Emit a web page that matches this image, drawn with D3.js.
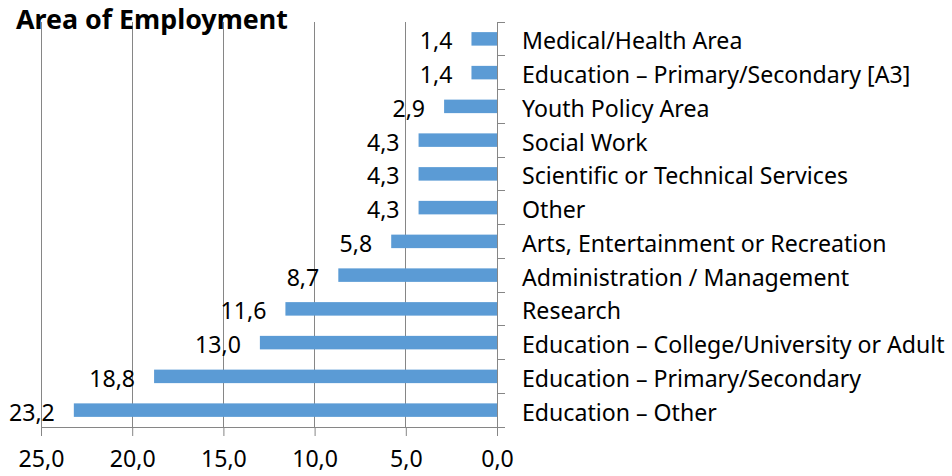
<!DOCTYPE html>
<html>
<head>
<meta charset="utf-8">
<script src="https://cdn.jsdelivr.net/npm/d3@7"></script>
<style>
  body { margin: 0; background: #fff; }
  svg { display: block; }
</style>
</head>
<body>
<div id="wrapper"></div>
<script>
const FONT_FAMILY = "'Noto Sans', 'Open Sans', sans-serif";
const AXIS_COLOR = "#868686";
const BAR_COLOR = "#5B9BD5";

const categories = [
    "Medical/Health Area",
    "Education – Primary/Secondary [A3]",
    "Youth Policy Area",
    "Social Work",
    "Scientific or Technical Services",
    "Other",
    "Arts, Entertainment or Recreation",
    "Administration / Management",
    "Research",
    "Education – College/University or Adult",
    "Education – Primary/Secondary",
    "Education – Other",
];
const values = [1.4, 1.4, 2.9, 4.3, 4.3, 4.3, 5.8, 8.7, 11.6, 13.0, 18.8, 23.2];
const xTicks = [25, 20, 15, 10, 5, 0];
const title = "Area of Employment";

const locale = d3.formatLocale({ decimal: ",", thousands: ".", grouping: [3], currency: ["", ""] });
const fmt = locale.format(".1f");

const dimensions = {
    width: 952,
    height: 476,
    margin: { top: 22, right: 455, bottom: 49, left: 41 },
};
dimensions.boundedWidth = dimensions.width - dimensions.margin.left - dimensions.margin.right;
dimensions.boundedHeight = dimensions.height - dimensions.margin.top - dimensions.margin.bottom;

const wrapper = d3.select("#wrapper")
    .append("svg")
    .attr("width", dimensions.width)
    .attr("height", dimensions.height);

// pick a font size so a given string spans the wanted width
function fitSize(str, targetWidth, weight) {
    const t = wrapper.append("text")
        .style("font-family", FONT_FAMILY)
        .style("font-weight", weight)
        .style("font-size", "100px")
        .text(str);
    const w = t.node().getComputedTextLength();
    t.remove();
    return 100 * targetWidth / w;
}

const labelSize = fitSize("Education – College/University or Adult", 423, "normal");
const titleSize = fitSize(title, 272, "bold");

const bounds = wrapper.append("g")
    .attr("transform", `translate(${dimensions.margin.left},${dimensions.margin.top})`);

const xScale = d3.scaleLinear()
    .domain([25, 0])
    .range([0, dimensions.boundedWidth]);

const yScale = d3.scaleBand()
    .domain(categories)
    .range([0, dimensions.boundedHeight])
    .paddingInner(0.6)
    .paddingOuter(0.3);

// vertical gridlines
bounds.append("g")
    .selectAll("line")
    .data(xTicks)
    .join("line")
    .attr("x1", d => xScale(d))
    .attr("x2", d => xScale(d))
    .attr("y1", 0)
    .attr("y2", dimensions.boundedHeight)
    .attr("stroke", AXIS_COLOR)
    .attr("stroke-width", 1)
    .attr("shape-rendering", "crispEdges");

// bottom axis
const xAxis = bounds.append("g")
    .attr("transform", `translate(0,${dimensions.boundedHeight})`)
    .call(d3.axisBottom(xScale).tickValues(xTicks).tickFormat(fmt).tickSize(9).tickPadding(15).tickSizeOuter(0));
xAxis.select(".domain").attr("stroke", AXIS_COLOR);
xAxis.selectAll(".tick line").attr("stroke", AXIS_COLOR);
xAxis.selectAll("text")
    .attr("fill", "#000")
    .style("font-family", FONT_FAMILY)
    .style("font-size", labelSize + "px");

// right category axis with ticks between bands
const step = yScale.step();
const boundaries = d3.range(categories.length + 1).map(i => i * step);
const yAxis = bounds.append("g")
    .attr("transform", `translate(${dimensions.boundedWidth},0)`);
yAxis.append("line")
    .attr("y1", 0)
    .attr("y2", dimensions.boundedHeight)
    .attr("stroke", AXIS_COLOR)
    .attr("shape-rendering", "crispEdges");
yAxis.selectAll(".bt")
    .data(boundaries)
    .join("line")
    .attr("class", "bt")
    .attr("x1", 0)
    .attr("x2", 8)
    .attr("y1", d => d)
    .attr("y2", d => d)
    .attr("stroke", AXIS_COLOR)
    .attr("shape-rendering", "crispEdges");
yAxis.selectAll("text")
    .data(categories)
    .join("text")
    .attr("x", 25)
    .attr("y", d => yScale(d) + yScale.bandwidth() / 2)
    .attr("dy", "0.45em")
    .attr("fill", "#000")
    .style("font-family", FONT_FAMILY)
    .style("font-size", labelSize + "px")
    .text(d => d);

// bars
const barGroups = bounds.append("g")
    .selectAll("g")
    .data(values)
    .join("g");

barGroups.append("rect")
    .attr("x", d => xScale(d))
    .attr("y", (d, i) => yScale(categories[i]))
    .attr("width", d => xScale(0) - xScale(d))
    .attr("height", yScale.bandwidth())
    .attr("fill", BAR_COLOR);

barGroups.append("text")
    .attr("x", d => xScale(d) - 19)
    .attr("y", (d, i) => yScale(categories[i]) + yScale.bandwidth() / 2)
    .attr("dy", "0.45em")
    .attr("text-anchor", "end")
    .attr("fill", "#000")
    .style("font-family", FONT_FAMILY)
    .style("font-size", labelSize + "px")
    .text(fmt);

// title
wrapper.append("text")
    .attr("x", 16)
    .attr("y", 29)
    .attr("fill", "#000")
    .style("font-family", FONT_FAMILY)
    .style("font-weight", "bold")
    .style("font-size", titleSize + "px")
    .text(title);
</script>
</body>
</html>
